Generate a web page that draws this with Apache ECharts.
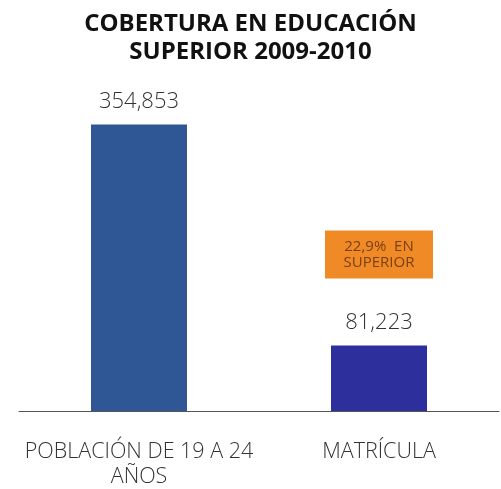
<!DOCTYPE html>
<html><head><meta charset="utf-8">
<script src="https://cdn.jsdelivr.net/npm/echarts@6/dist/echarts.min.js"></script>
<style>html,body{margin:0;padding:0;background:#fff}#c{width:501px;height:489px}</style>
</head><body><div id="c"></div>
<script>
const categories = ['POBLACIÓN DE 19 A 24\nAÑOS', 'MATRÍCULA'];
const values = [354853, 81223];
const barColors = ['#2f5796', '#2d2f9c'];
const noteText = '22,9%  EN\nSUPERIOR';

const chart = echarts.init(document.getElementById('c'));
chart.setOption({
  animation: false,
  backgroundColor: '#ffffff',
  title: {
    text: 'COBERTURA EN EDUCACIÓN\nSUPERIOR 2009-2010',
    left: 'center', top: 5,
    textStyle: { fontFamily: 'Open Sans', fontWeight: 'bold', fontSize: 24, lineHeight: 28, color: '#111' }
  },
  grid: { left: 19, right: 2, top: 88, bottom: 77 },
  xAxis: {
    type: 'category', data: categories,
    axisLine: { lineStyle: { color: '#555', width: 1 } },
    axisTick: { show: false },
    axisLabel: { fontFamily: 'Open Sans', fontWeight: 300, fontSize: 21.5, lineHeight: 25, color: '#333', margin: 28, interval: 0 }
  },
  yAxis: { type: 'value', min: 0, max: 400000, show: false, splitLine: { show: false } },
  series: [{
    type: 'bar',
    barWidth: '40%',
    data: values.map((v, i) => ({ value: v, itemStyle: { color: barColors[i] } })),
    label: {
      show: true, position: 'top', distance: 12,
      fontFamily: 'Open Sans', fontWeight: 300, fontSize: 22, color: '#333',
      formatter: p => p.value.toLocaleString('en-US')
    },
    markPoint: {
      data: [{ coord: [1, values[1]], value: noteText }],
      symbol: 'rect', symbolSize: [108, 48], symbolOffset: [0, -91],
      itemStyle: { color: '#f08a26' },
      label: { show: true, formatter: noteText, fontFamily: 'Open Sans', fontWeight: 'normal', fontSize: 15, lineHeight: 16, color: '#7a4012' }
    }
  }]
});
</script></body></html>
